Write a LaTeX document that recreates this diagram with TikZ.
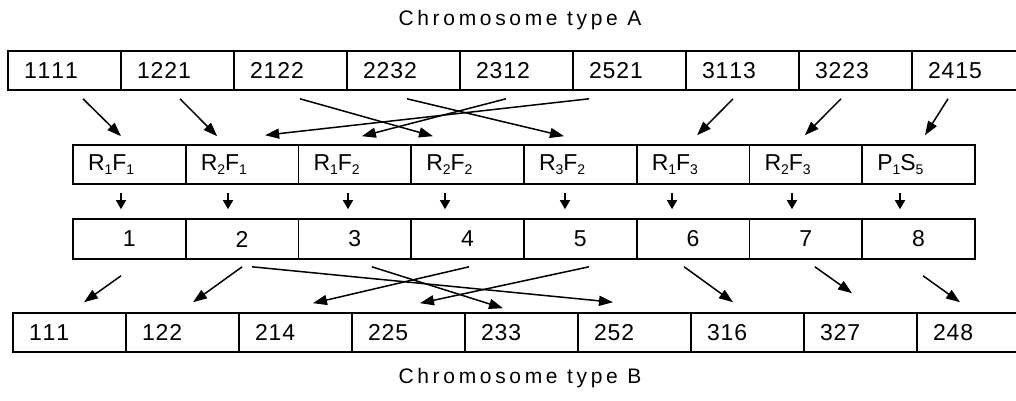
\documentclass[tikz,border=0pt]{standalone}
\usepackage{fontspec}
\setmainfont{Liberation Sans}
\newfontfamily\titlefont[LetterSpace=17.5,Kerning=Off]{Liberation Sans}
\newfontfamily\cellfont[LetterSpace=4,Kerning=Off]{Liberation Sans}
\newcommand\sbs[1]{\raisebox{-4pt}{\fontsize{14}{14}\selectfont#1}}
\usetikzlibrary{arrows.meta,calc}
\begin{document}
\begin{tikzpicture}[x=1pt,y=-1pt,
  cell/.style={draw,line width=1.6pt,minimum height=39pt,inner ysep=0pt},
  ctext/.style={font=\cellfont\fontsize{23}{27}\selectfont},
  wcell/.style={cell,ctext,inner xsep=16pt,text width=81pt,align=left},
  rcell/.style={cell,ctext,inner xsep=15pt,text width=82.75pt,align=left},
  ncell/.style={cell,ctext,inner xsep=0pt,minimum width=112.75pt,minimum height=40pt},
  title/.style={font=\titlefont\fontsize{21}{25}\selectfont,anchor=base},
  arr/.style={line width=1.5pt,-{Triangle[length=14pt,width=10pt]}},
  varr/.style={line width=1.5pt,-{Triangle[length=9pt,width=10pt]}}]
\useasboundingbox (0,0) rectangle (1016,401);
\clip (0,0) rectangle (1016,401);
\node[title] (ta) at (520,26) {Chromosome type A};
\node[title] (tb) at (520,383) {Chromosome type B};
\foreach \i/\t in {1/1111,2/1221,3/2122,4/2232,5/2312,6/2521,7/3113,8/3223,9/2415}
  \node[wcell] (t\i) at ({64.5+113*(\i-1)},70.5) {\t};
\foreach \i/\t in {1/R\sbs{1}F\sbs{1},2/R\sbs{2}F\sbs{1},
  3/R\sbs{1}F\sbs{2},4/R\sbs{2}F\sbs{2},
  5/R\sbs{3}F\sbs{2},6/R\sbs{1}F\sbs{3},
  7/R\sbs{2}F\sbs{3},8/P\sbs{1}S\sbs{5}}
  \node[rcell] (r\i) at ({129.375+112.75*(\i-1)},164.5) {\t};
\foreach \i in {1,...,8}
  \node[ncell] (n\i) at ({129.375+112.75*(\i-1)},239) {\i};
\foreach \i/\t in {1/111,2/122,3/214,4/225,5/233,6/252,7/316,8/327,9/248}
  \node[wcell] (b\i) at ({69.5+113*(\i-1)},332.5) {\t};
% type A -> rule/feature
\draw[arr] ($(t1.south)+(18.5,8)$) -- ($(r1.north)+(-8.4,-8)$);
\draw[arr] ($(t2.south)+(2.5,8)$) -- ($(r2.north)+(-25,-8)$);
\draw[arr] ($(t3.south)+(9.5,8)$) -- ($(r4.north)+(-34.6,-8)$);
\draw[arr] ($(t4.south)+(3.5,8)$) -- ($(r5.north)+(-16.4,-8)$);
\draw[arr] ($(t5.south)+(-10.5,8)$) -- ($(r3.north)+(7,-8)$);
\draw[arr] ($(t6.south)+(-40.5,8)$) -- ($(r2.north)+(23,-9)$);
\draw[arr] ($(t7.south)+(-9.5,8)$) -- ($(r6.north)+(4,-9)$);
\draw[arr] ($(t8.south)+(-14.5,8)$) -- ($(r7.north)+(-1,-9)$);
\draw[arr] ($(t9.south)+(-20.5,8)$) -- ($(r8.north)+(6.4,-9)$);
% rule/feature -> number
\foreach \i/\d in {1/-8.4,2/-14.1,3/-6.9,4/-22.6,5/-15.4,6/-21.1,7/-13.9,8/-18.6}
  \draw[varr] ($(r\i.south)+(\d,8)$) -- ($(n\i.north)+(\d,-9)$);
% number -> type B
\draw[arr] ($(n1.south)+(-8.4,16)$) -- ($(b1.north)+(14.5,-10)$);
\draw[arr] ($(n2.south)+(0,7)$) -- ($(b2.north)+(10.5,-10)$);
\draw[arr] ($(n2.south)+(10,7)$) -- ($(b6.north)+(-21.5,-10)$);
\draw[arr] ($(n3.south)+(17,7)$) -- ($(b5.north)+(-18.5,-4)$);
\draw[arr] ($(n4.south)+(1.4,7)$) -- ($(b3.north)+(17.5,-9)$);
\draw[arr] ($(n5.south)+(8.6,7)$) -- ($(b4.north)+(11.5,-9)$);
\draw[arr] ($(n6.south)+(-9,7)$) -- ($(b7.north)+(-14.5,-10)$);
\draw[arr] ($(n7.south)+(9,7)$) -- ($(b8.north)+(-8.5,-19)$);
\draw[arr] ($(n8.south)+(4.4,16)$) -- ($(b9.north)+(-13.5,-10)$);
\end{tikzpicture}
\end{document}
